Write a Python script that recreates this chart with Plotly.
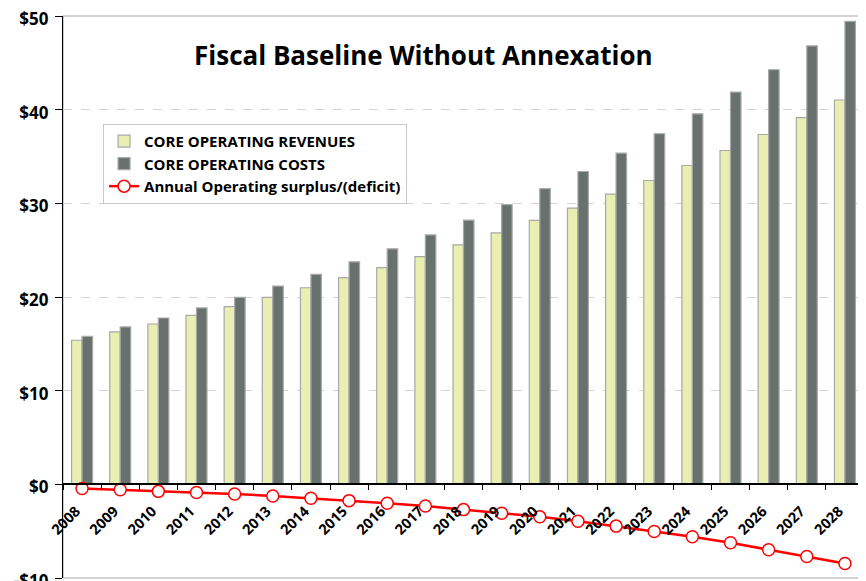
import plotly.graph_objects as go

years = [str(y) for y in range(2008, 2029)]
revenues = [15.38, 16.27, 17.12, 18.04, 18.97, 19.96, 20.99, 22.06, 23.14, 24.32, 25.57,
            26.85, 28.17, 29.49, 30.98, 32.44, 34.04, 35.64, 37.35, 39.14, 41.03]
costs = [15.80, 16.80, 17.76, 18.83, 19.96, 21.17, 22.41, 23.76, 25.14, 26.63, 28.20,
         29.87, 31.58, 33.40, 35.36, 37.43, 39.56, 41.88, 44.26, 46.80, 49.42]
surplus = [-0.45, -0.58, -0.75, -0.88, -1.03, -1.24, -1.48, -1.74, -2.02, -2.32, -2.70,
           -3.08, -3.47, -3.94, -4.46, -5.03, -5.60, -6.24, -6.98, -7.70, -8.46]
y_ticks = [-10, 0, 10, 20, 30, 40, 50]
y_tick_labels = ["-$10", "$0", "$10", "$20", "$30", "$40", "$50"]

FONT = "Open Sans"

fig = go.Figure()
fig.add_trace(go.Bar(
    x=years, y=revenues, name="CORE OPERATING REVENUES",
    marker=dict(color="#E9EFB1", line=dict(color="#A8A8A8", width=1.2)),
))
fig.add_trace(go.Bar(
    x=years, y=costs, name="CORE OPERATING COSTS",
    marker=dict(color="#68716D", line=dict(color="#A8A8A8", width=1.2)),
))
fig.add_trace(go.Scatter(
    x=years, y=surplus, name="Annual Operating surplus/(deficit)",
    mode="lines+markers",
    line=dict(color="#FF0000", width=2.5),
    marker=dict(symbol="circle", size=12, color="white", line=dict(color="#FF0000", width=1.5)),
))

# page body has an 8px default margin, so the figure is sized to fit the 866x581 window
fig.update_layout(
    width=858, height=573,
    margin=dict(l=55, r=2, t=8, b=3, autoexpand=False),
    paper_bgcolor="white", plot_bgcolor="white",
    barmode="group", bargap=0.45, bargroupgap=0,
    font=dict(family=FONT, color="black"),
    showlegend=True,
    legend=dict(
        x=0.05, y=0.808, xanchor="left", yanchor="top",
        bgcolor="white", bordercolor="#C8C8C8", borderwidth=1,
        font=dict(family=FONT, size=15, color="black", weight="bold"),
        tracegroupgap=0, itemwidth=30,
    ),
    xaxis=dict(
        type="category", automargin=False,
        anchor="free", position=1/6,
        showline=True, linecolor="black", linewidth=1.5,
        ticks="outside", ticklen=5, tickcolor="black", tickson="boundaries",
        tickangle=-45, ticklabelstandoff=12, ticklabelshift=-6,
        tickfont=dict(family=FONT, size=14.5, color="black", weight="bold"),
        showgrid=False,
        range=[-0.5, 20.5],
    ),
    yaxis=dict(
        range=[-10, 50], automargin=False,
        tickvals=y_ticks, ticktext=y_tick_labels, ticklabeloverflow="allow",
        ticklabelshift=3,
        showline=True, linecolor="black", linewidth=1.2,
        ticks="outside", ticklen=7, tickcolor="black", ticklabelstandoff=3,
        tickfont=dict(family=FONT, size=17, color="black", weight="bold"),
        showgrid=True, gridcolor="#D4D4D4", griddash="dash", gridwidth=1,
        zeroline=False,
    ),
    shapes=[dict(type="rect", xref="paper", yref="paper", x0=0, x1=1, y0=0, y1=1,
                 line=dict(color="#A8A8A8", width=1.2), layer="below")],
    annotations=[dict(
        text="Fiscal Baseline Without Annexation", xref="paper", yref="paper",
        x=(423 - 63) / 801, y=(578 - 55) / 562, xanchor="center", yanchor="middle",
        showarrow=False, font=dict(family=FONT, size=26, color="black", weight="bold"),
    )],
)

fig.write_html("out.html")
